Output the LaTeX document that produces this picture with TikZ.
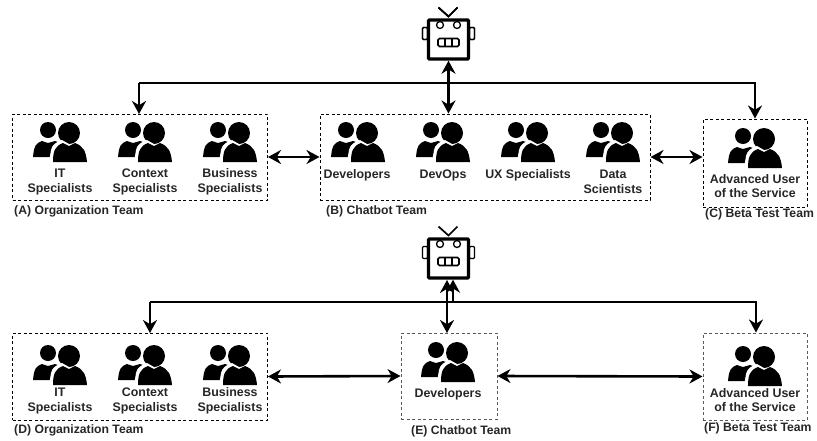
\documentclass[tikz,border=0pt]{standalone}
\usepackage{fontspec}
\setmainfont{Liberation Sans}
\usetikzlibrary{arrows.meta,positioning}

\tikzset{
    team/.style={rectangle, draw=#1, line width=1pt, dash pattern=on 3pt off 2.5pt, inner sep=0pt},
    team/.default=black,
    role/.style={font=\fontsize{12.4}{14.6}\selectfont\bfseries, align=center, inner sep=0pt, text=black!85},
    caption/.style={font=\fontsize{12.2}{14}\selectfont\bfseries, anchor=west, inner sep=0pt, text=black!85},
    connect/.style={line width=2.6pt},
    oneway/.style={connect, -{Stealth[length=13pt,width=14pt]}},
    twoway/.style={connect, {Stealth[length=13pt,width=14pt]}-{Stealth[length=13pt,width=14pt]}},
    robothead/.style={rectangle, draw=black, line width=3.4pt, fill=white, minimum width=40pt, minimum height=39pt, rounded corners=1pt, inner sep=0pt},
    people/.pic={
        \fill[black] (-12,-12) circle (8);
        \fill[black] (-27,15) .. controls (-26,4) and (-24,1) .. (-18,-1) -- (-12,1) -- (-5,-1) -- (-2,0) -- (-8,15) -- cycle;
        \fill[black] (9,-9) circle (11);
        \fill[white] (-11,20) -- (-9,8) .. controls (-8,3) and (-4,0) .. (2,-2) -- (9,2) -- (9,20) -- cycle;
        \fill[black] (-7,20) .. controls (-7,9) and (-5,4) .. (3,1) -- (9,4) -- (15,1) .. controls (23,4) and (26,9) .. (27,20) -- cycle;
    },
    robotface/.pic={
        \draw[line width=1.3pt] (-8.5,-14.5) circle (3.5) (8.5,-14.5) circle (3.5);
        \draw[line width=1.6pt, rounded corners=1.5pt] (-10.5,-1) rectangle (10.5,7);
        \draw[line width=1.3pt] (-3.5,-1) -- (-3.5,7) (3.5,-1) -- (3.5,7);
        \draw[line width=1.2pt, rounded corners=1pt] (-26,-12) rectangle (-21,0) (21,-12) rectangle (26,0);
        \draw[line width=1.7pt] (-10,-32) -- (0,-23) -- (9,-32);
    }
}

\begin{document}
\begin{tikzpicture}[x=1pt,y=-1pt]
    \useasboundingbox (0,0) rectangle (817,440);

    % upper half
    \pic at (448.5,39.5) {robotface};
    \node[robothead] (R1) at (448.5,39.5){};
    \pic at (448.5,39.5) {robotface};

    \node[team, minimum width=255pt, minimum height=86pt] (A) at (140,157){};
    \node[team, minimum width=330pt, minimum height=86pt] (B) at (485,157){};
    \node[team, minimum width=104pt, minimum height=88pt] (C) at (755,163){};

    \pic at (60,142) {people};
    \pic at (145,142) {people};
    \pic at (230,142) {people};
    \pic at (358,142) {people};
    \pic at (443,142) {people};
    \pic at (528,142) {people};
    \pic at (613,142) {people};
    \pic at (755,148) {people};

    \node[role] (a1) at (60,182){IT\\Specialists};
    \node[role] (a2) at (145,182){Context\\Specialists};
    \node[role] (a3) at (230,182){Business\\Specialists};
    \node[role] (b1) at (357,175){Developers};
    \node[role] (b2) at (443,175){DevOps};
    \node[role] (b3) at (528,175){UX Specialists};
    \node[role] (b4) at (613,182){Data\\Scientists};
    \node[role] (c1) at (755,186){Advanced User\\of the Service};

    \node[caption] (capA) at (14,211){(A) Organization Team};
    \node[caption] (capB) at (326,211){(B) Chatbot Team};
    \node[caption] (capC) at (705,214){(C) Beta Test Team};

    \coordinate (busL1) at (139,83);
    \coordinate (busR1) at (755,83);
    \draw[oneway] (busL1) -- (139,114);
    \draw[oneway] (busL1) -- (busR1) -- (C.north -| busR1);
    \draw[twoway] (R1.south) -- (R1.south |- B.north);
    \draw[twoway] (A.east) -- (B.west);
    \draw[twoway] (B.east) -- (C.west |- B.east);

    % lower half
    \node[robothead] (R2) at (448.5,258.5){};
    \pic at (448.5,258.5) {robotface};

    \node[team, minimum width=255pt, minimum height=87pt] (D) at (140,376.5){};
    \node[team=black!65, minimum width=96pt, minimum height=86pt] (E) at (449,376){};
    \node[team=black!65, minimum width=104pt, minimum height=87pt] (F) at (755,376.5){};

    \pic at (60,365) {people};
    \pic at (145,365) {people};
    \pic at (230,365) {people};
    \pic at (448,362) {people};
    \pic at (755,366) {people};

    \node[role] (d1) at (60,401){IT\\Specialists};
    \node[role] (d2) at (145,401){Context\\Specialists};
    \node[role] (d3) at (230,401){Business\\Specialists};
    \node[role] (e1) at (448,394){Developers};
    \node[role] (f1) at (755,400){Advanced User\\of the Service};

    \node[caption] (capD) at (14,430){(D) Organization Team};
    \node[caption] (capE) at (411,431){(E) Chatbot Team};
    \node[caption] (capF) at (704,428){(F) Beta Test Team};

    \coordinate (busL2) at (150,302);
    \coordinate (busR2) at (756,302);
    \coordinate (upR2) at (453,302);
    \draw[oneway] (busL2) -- (150,333);
    \draw[oneway] (busL2) -- (busR2) -- (busR2 |- F.north);
    \draw[oneway] (upR2) -- (upR2 |- R2.south);
    \draw[twoway] (447,280) -- (447,333);
    \draw[twoway] (D.east) -- (E.west);
    \draw[twoway] (E.east) -- (F.west);
\end{tikzpicture}
\end{document}
